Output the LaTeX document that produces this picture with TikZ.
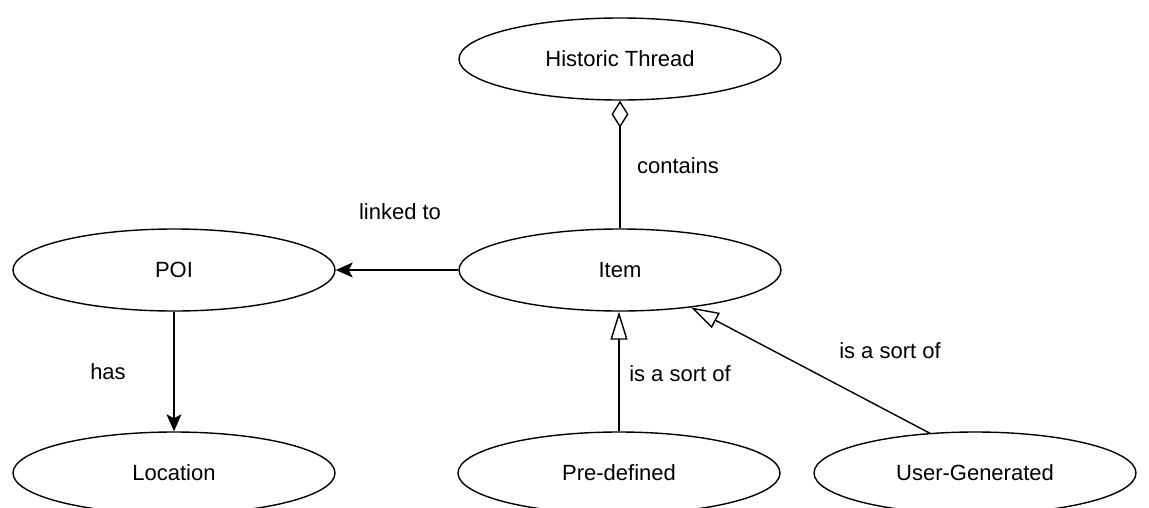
\documentclass[tikz,border=0pt]{standalone}
\usepackage{fontspec}
\setmainfont{Liberation Sans}
\usetikzlibrary{shapes.geometric,arrows.meta,calc}
\begin{document}
\begin{tikzpicture}[x=1pt,y=-1pt,
  ent/.style={ellipse,draw,line width=1.4pt,minimum width=322pt,minimum height=82pt,inner sep=0pt,font=\fontsize{22}{26}\selectfont},
  lbl/.style={font=\fontsize{22}{26}\selectfont,inner sep=0pt},
  conn/.style={line width=1.4pt},
  assoc/.style={conn,-{Stealth[length=17pt,width=15pt,inset=4pt]}},
  gen/.style={conn,-{Triangle[open,length=28pt,width=17pt,line width=1.4pt]}},
  agg/.style={conn,-{Diamond[open,length=27pt,width=17pt,line width=1.4pt]}}]
\useasboundingbox (0,0) rectangle (1149,507);
\node[ent] (ht) at (620,59) {Historic Thread};
\node[ent] (poi) at (174,270) {POI};
\node[ent] (item) at (620,270) {Item};
\node[ent] (loc) at (174,473) {Location};
\node[ent] (pre) at (619,473) {Pre-defined};
\node[ent] (ug) at (975,473) {User-Generated};
\draw[agg] (item) -- (ht);
\draw[assoc] (item) -- (poi);
\draw[assoc] (poi) -- (loc);
\draw[gen] (pre.north) -- (pre.north |- item.south);
\draw[gen] ($(ug.north)+(-45,2)$) -- (item);
\node[lbl] (l1) at (678,166) {contains};
\node[lbl] (l2) at (400,212) {linked to};
\node[lbl] (l3) at (108,372) {has};
\node[lbl] (l4) at (680,374) {is a sort of};
\node[lbl] (l5) at (890,351) {is a sort of};
\end{tikzpicture}
\end{document}
